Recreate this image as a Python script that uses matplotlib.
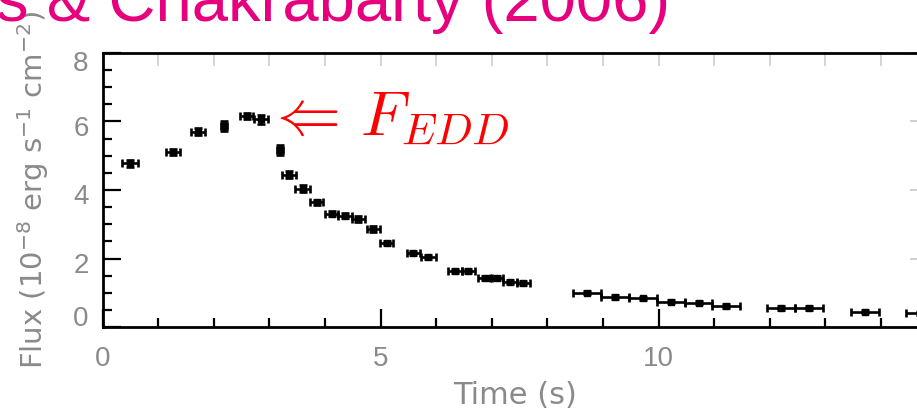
import matplotlib
matplotlib.use("Agg")
import matplotlib.pyplot as plt
from matplotlib.ticker import MultipleLocator, FixedLocator
import matplotlib.transforms as mtransforms

# Burst light curve: bolometric flux vs time
time_s = [0.49, 1.27, 1.72, 2.19, 2.59, 2.85, 3.19, 3.35, 3.60, 3.85,
          4.12, 4.36, 4.60, 4.87, 5.11, 5.59, 5.86, 6.34, 6.58, 6.88,
          7.09, 7.33, 7.57, 8.71, 9.22, 9.72, 10.22, 10.72, 11.22, 12.21,
          12.71, 13.71, 14.71]
flux = [4.78, 5.12, 5.70, 5.87, 6.16, 6.06, 5.17, 4.45, 4.04, 3.64,
        3.31, 3.25, 3.15, 2.86, 2.44, 2.17, 2.05, 1.63, 1.63, 1.42,
        1.44, 1.32, 1.28, 1.00, 0.88, 0.84, 0.74, 0.71, 0.61, 0.55,
        0.55, 0.45, 0.40]
time_err = [0.14, 0.13, 0.13, 0.05, 0.12, 0.13, 0.06, 0.13, 0.13, 0.12,
            0.12, 0.12, 0.12, 0.12, 0.12, 0.12, 0.13, 0.12, 0.12, 0.12,
            0.12, 0.12, 0.12, 0.25, 0.25, 0.25, 0.25, 0.25, 0.25, 0.25,
            0.25, 0.25, 0.25]
flux_err = [0.10, 0.09, 0.10, 0.15, 0.10, 0.13, 0.15, 0.10, 0.10, 0.08,
            0.08, 0.08, 0.08, 0.08, 0.06, 0.06, 0.06, 0.06, 0.06, 0.06,
            0.06, 0.05, 0.05, 0.05, 0.05, 0.05, 0.05, 0.05, 0.05, 0.05,
            0.05, 0.05, 0.05]

x_ticks = [0, 5, 10]
y_ticks = [0, 2, 4, 6, 8]
title_text = "s & Chakrabarty (2006)"
x_label = "Time (s)"
y_label = r"Flux (10$^{-8}$ erg s$^{-1}$ cm$^{-2}$)"
edd_label = r"$\Leftarrow\,F_{EDD}$"

plt.rcParams["font.family"] = ["Liberation Sans", "DejaVu Sans"]
plt.rcParams["mathtext.fontset"] = "custom"
plt.rcParams["mathtext.rm"] = "DejaVu Sans"
plt.rcParams["mathtext.it"] = "DejaVu Sans:italic"

W, H = 917, 419
fig = plt.figure(figsize=(W / 100, H / 100), dpi=100)
fig.patch.set_facecolor("white")

px_per_s = 55.6
x_max = 14.85
ax = fig.add_axes([102.5 / W, 92 / H, x_max * px_per_s / W, 274 / H])

ax.errorbar(time_s, flux, xerr=time_err, yerr=flux_err, fmt="s",
            color="black", ms=3.8, elinewidth=1.9, capsize=2.8,
            capthick=1.9, zorder=3)

ax.set_xlim(0, x_max)
ax.set_ylim(0, 8)

grey = "#8a8a8a"
ax.xaxis.set_major_locator(FixedLocator(x_ticks))
ax.xaxis.set_minor_locator(MultipleLocator(1))
ax.yaxis.set_major_locator(FixedLocator(y_ticks))
ax.yaxis.set_minor_locator(MultipleLocator(0.5))
ax.set_xticklabels([str(v) for v in x_ticks])
ax.set_yticklabels([str(v) for v in y_ticks])

ax.tick_params(which="both", direction="in", color="black", width=1.6,
               labelcolor=grey, labelsize=20, top=False, right=False)
ax.tick_params(which="major", length=13)
ax.tick_params(which="minor", length=6.5)
ax.tick_params(axis="x", pad=14)
ax.tick_params(axis="y", pad=10)

for side in ("left", "bottom", "top"):
    ax.spines[side].set_linewidth(2.0)
    ax.spines[side].set_color("black")
ax.spines["right"].set_visible(False)

# faint ticks on the top and right edges
top = ax.secondary_xaxis("top")
top.xaxis.set_major_locator(FixedLocator(x_ticks))
top.xaxis.set_minor_locator(MultipleLocator(1))
top.tick_params(which="both", direction="in", color="#d4d4d4", width=1.4,
                labeltop=False, length=9)
top.spines["top"].set_visible(False)
right = ax.secondary_yaxis("right")
right.yaxis.set_major_locator(FixedLocator(y_ticks))
right.yaxis.set_minor_locator(MultipleLocator(0.5))
right.tick_params(which="major", direction="in", color="#cfcfcf", width=1.4,
                  labelright=False, length=13)
right.tick_params(which="minor", direction="in", color="#cfcfcf", width=1.4,
                  length=6.5)
right.spines["right"].set_visible(False)

# nudge the end labels of the flux axis inward
for lab, v in zip(ax.get_yticklabels(), y_ticks):
    dy = -6 if v == 8 else (8 if v == 0 else -3)
    lab.set_transform(lab.get_transform() +
                      mtransforms.ScaledTranslation(0, dy / 72, fig.dpi_scale_trans))

ax.set_xlabel(x_label, fontsize=22, color=grey, labelpad=6,
              family="DejaVu Sans")
ax.set_ylabel(y_label, fontsize=21, color=grey, family="DejaVu Sans")
ax.yaxis.set_label_coords(-0.062, 0.5)

ax.text(2.92, 5.62, edd_label, color="red", fontsize=46, ha="left",
        va="baseline", zorder=4, math_fontfamily="cm")

fig.text(670 / W, 1 - 21 / H, title_text, color="#e6007e", fontsize=47,
         ha="right", va="baseline")

fig.savefig("out.png", dpi=100, facecolor="white")
